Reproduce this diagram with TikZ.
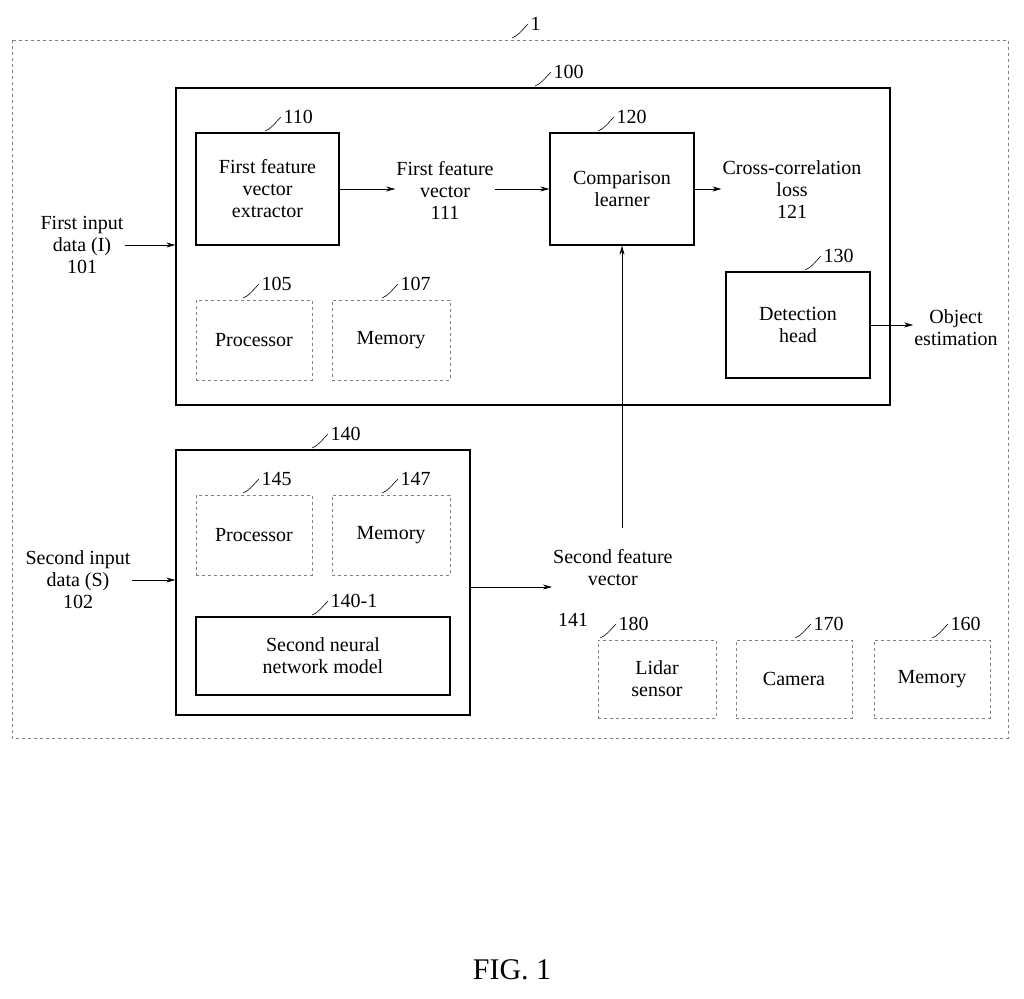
\documentclass[tikz,border=0pt]{standalone}
\usepackage{fontspec}
\setmainfont{Liberation Serif}
\usetikzlibrary{arrows.meta,positioning}
\tikzset{
  solidbox/.style={draw,line width=1.4pt,align=center,inner sep=0pt},
  dashbox/.style={draw,dashed,gray,text=black,line width=0.6pt,align=center,inner sep=0pt},
  plain/.style={align=center,inner sep=1pt},
  flow/.style={-{Stealth[length=9pt,width=5pt]},line width=0.6pt},
}
% leader line with reference number
\newcommand{\refnum}[3]{%
  \draw[line width=0.6pt] (#1) .. controls +(6,-2) and +(-6,6) .. +(16,-14) node[right=-1pt,anchor=west] {#3};}
\begin{document}
\begin{tikzpicture}[x=1pt,y=-1pt,font=\fontsize{20}{22}\selectfont]
\useasboundingbox (0,0) rectangle (1024,998);
\fill[white] (0,0) rectangle (1024,998);
% outer system
\draw[dashbox] (12,40) rectangle (1008,738);
\refnum{512,38}{}{1}
% first network
\node[solidbox,minimum width=714,minimum height=317] (net) at (533,246.5) {};
\refnum{535,86}{}{100}
\node[solidbox,minimum width=143,minimum height=112] (extr) at (267.5,189) {First feature\\vector\\extractor};
\refnum{265,131}{}{110}
\node[plain] (vec1) at (445,190) {First feature\\vector\\111};
\node[solidbox,minimum width=144,minimum height=112] (comp) at (622,189) {Comparison\\learner};
\refnum{598,131}{}{120}
\node[plain] (loss) at (792,190) {Cross-correlation\\loss\\121};
\node[solidbox,minimum width=144,minimum height=106] (head) at (798,325) {Detection\\head};
\refnum{805,270}{}{130}
\node[plain] (obj) at (956,328) {Object\\estimation};
\node[dashbox,minimum width=116,minimum height=80] (proc1) at (254,340) {Processor};
\refnum{243,298}{}{105}
\node[dashbox,minimum width=118,minimum height=80] (mem1) at (391,340) {Memory};
\refnum{382,298}{}{107}
\node[plain] (in1) at (82,245) {First input\\data (I)\\101};
% second network
\node[solidbox,minimum width=294,minimum height=265] (net2) at (323,582.5) {};
\refnum{312,448}{}{140}
\node[dashbox,minimum width=116,minimum height=80] (proc2) at (254,535) {Processor};
\refnum{243,493}{}{145}
\node[dashbox,minimum width=118,minimum height=80] (mem2) at (391,535) {Memory};
\refnum{382,493}{}{147}
\node[solidbox,minimum width=254,minimum height=78] (model) at (323,656) {Second neural\\network model};
\refnum{312,615}{}{140-1}
\node[plain] (in2) at (78,580) {Second input\\data (S)\\102};
\node[plain,anchor=west] (vec2) at (552,568) {Second feature\\vector};
\node[plain] (num141) at (573,620) {141};
\coordinate (vec2up) at (622,528);
% sensors
\node[dashbox,minimum width=118,minimum height=78] (lidar) at (657,679) {Lidar\\sensor};
\refnum{600,638}{}{180}
\node[dashbox,minimum width=116,minimum height=78] (cam) at (794,679) {Camera};
\refnum{795,638}{}{170}
\node[dashbox,minimum width=116,minimum height=78] (mem3) at (932,679) {Memory};
\refnum{932,638}{}{160}
% connectors
\draw[flow] (in1.east) -- (net.west|-in1.east);
\draw[flow] (extr.east) -- (vec1.west|-extr.east);
\draw[flow] (vec1.east|-comp.west) -- (comp.west);
\draw[flow] (comp.east) -- (loss.west|-comp.east);
\draw[flow] (head.east) -- (obj.west|-head.east);
\draw[flow] (in2.east) -- (net2.west|-in2.east);
\draw[flow] (net2.east|-vec2.west) ++(0,19) coordinate (o2) -- (vec2.west|-o2);
\draw[flow] (vec2up) -- (comp.south);
\node[font=\fontsize{30}{32}\selectfont] (fig) at (512,970) {FIG. 1};
\end{tikzpicture}
\end{document}
